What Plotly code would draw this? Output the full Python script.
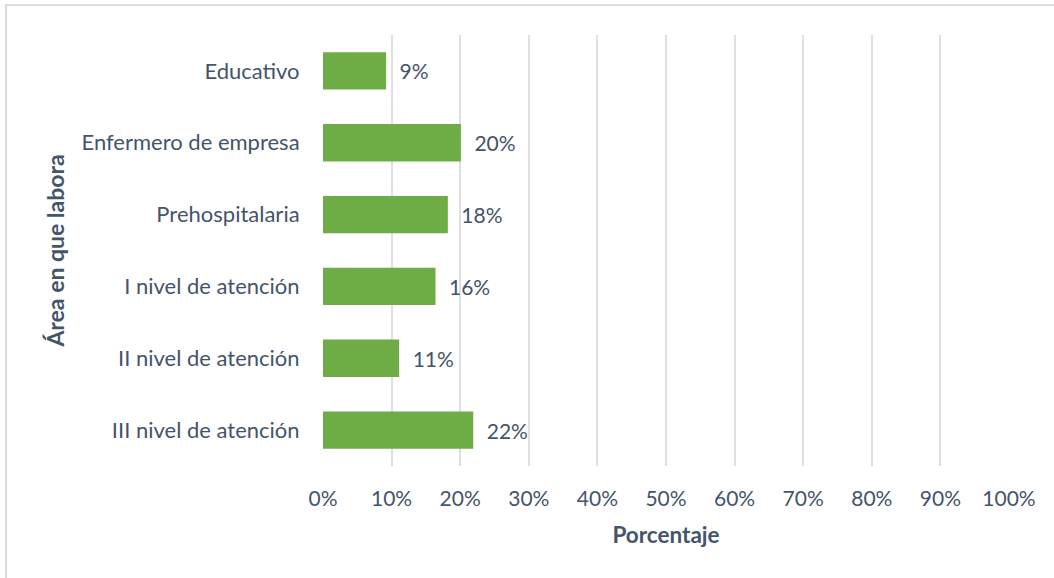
import plotly.graph_objects as go

categories = ["Educativo", "Enfermero de empresa", "Prehospitalaria",
              "I nivel de atención", "II nivel de atención", "III nivel de atención"]
values = [0.092, 0.201, 0.182, 0.164, 0.111, 0.219]
x_ticks = [0, 0.1, 0.2, 0.3, 0.4, 0.5, 0.6, 0.7, 0.8, 0.9, 1.0]
x_tick_labels = ["0%", "10%", "20%", "30%", "40%", "50%", "60%", "70%", "80%", "90%", "100%"]

TXT = "#44546A"
GRID = "#DCDFE5"
FONT = "Lato, 'Open Sans', sans-serif"
FS = 21

fig = go.Figure(go.Bar(
    x=values, y=categories, orientation="h",
    marker=dict(color="#6EAD46", line=dict(width=0)),
    width=0.52,
    texttemplate="\u2002%{x:.0%}", textposition="outside",
    textfont=dict(size=FS, color=TXT, family=FONT),
    cliponaxis=False,
))

fig.update_layout(
    width=1054, height=578,
    margin=dict(l=323, r=45, t=35, b=112),
    paper_bgcolor="white", plot_bgcolor="white",
    font=dict(family=FONT, color=TXT, size=FS),
    showlegend=False,
    xaxis=dict(range=[0, 1], tickvals=x_ticks, ticktext=x_tick_labels,
               showgrid=True, gridcolor=GRID, gridwidth=1.5, zeroline=False,
               showline=False, ticks="outside", ticklen=14, tickcolor="rgba(0,0,0,0)",
               tickfont=dict(size=FS, color=TXT),
               title=dict(text="<b>Porcentaje</b>", font=dict(size=22.5, color=TXT), standoff=18)),
    yaxis=dict(autorange="reversed", showgrid=False, zeroline=False, showline=False,
               ticks="outside", ticklen=18, tickcolor="rgba(0,0,0,0)",
               tickfont=dict(size=22, color=TXT),
               title=dict(text="<b>Área en que labora</b>", font=dict(size=23, color=TXT), standoff=10)),
    shapes=[dict(type="rect", xref="paper", yref="paper",
                 x0=-317/686, x1=1.1, y0=-0.3, y1=1 + 30/431,
                 line=dict(color="#D9DCE3", width=2), fillcolor="rgba(0,0,0,0)", layer="below")],
)

fig.write_html("out.html", config={"displayModeBar": False},
               post_script="document.body.style.margin='0px';")
